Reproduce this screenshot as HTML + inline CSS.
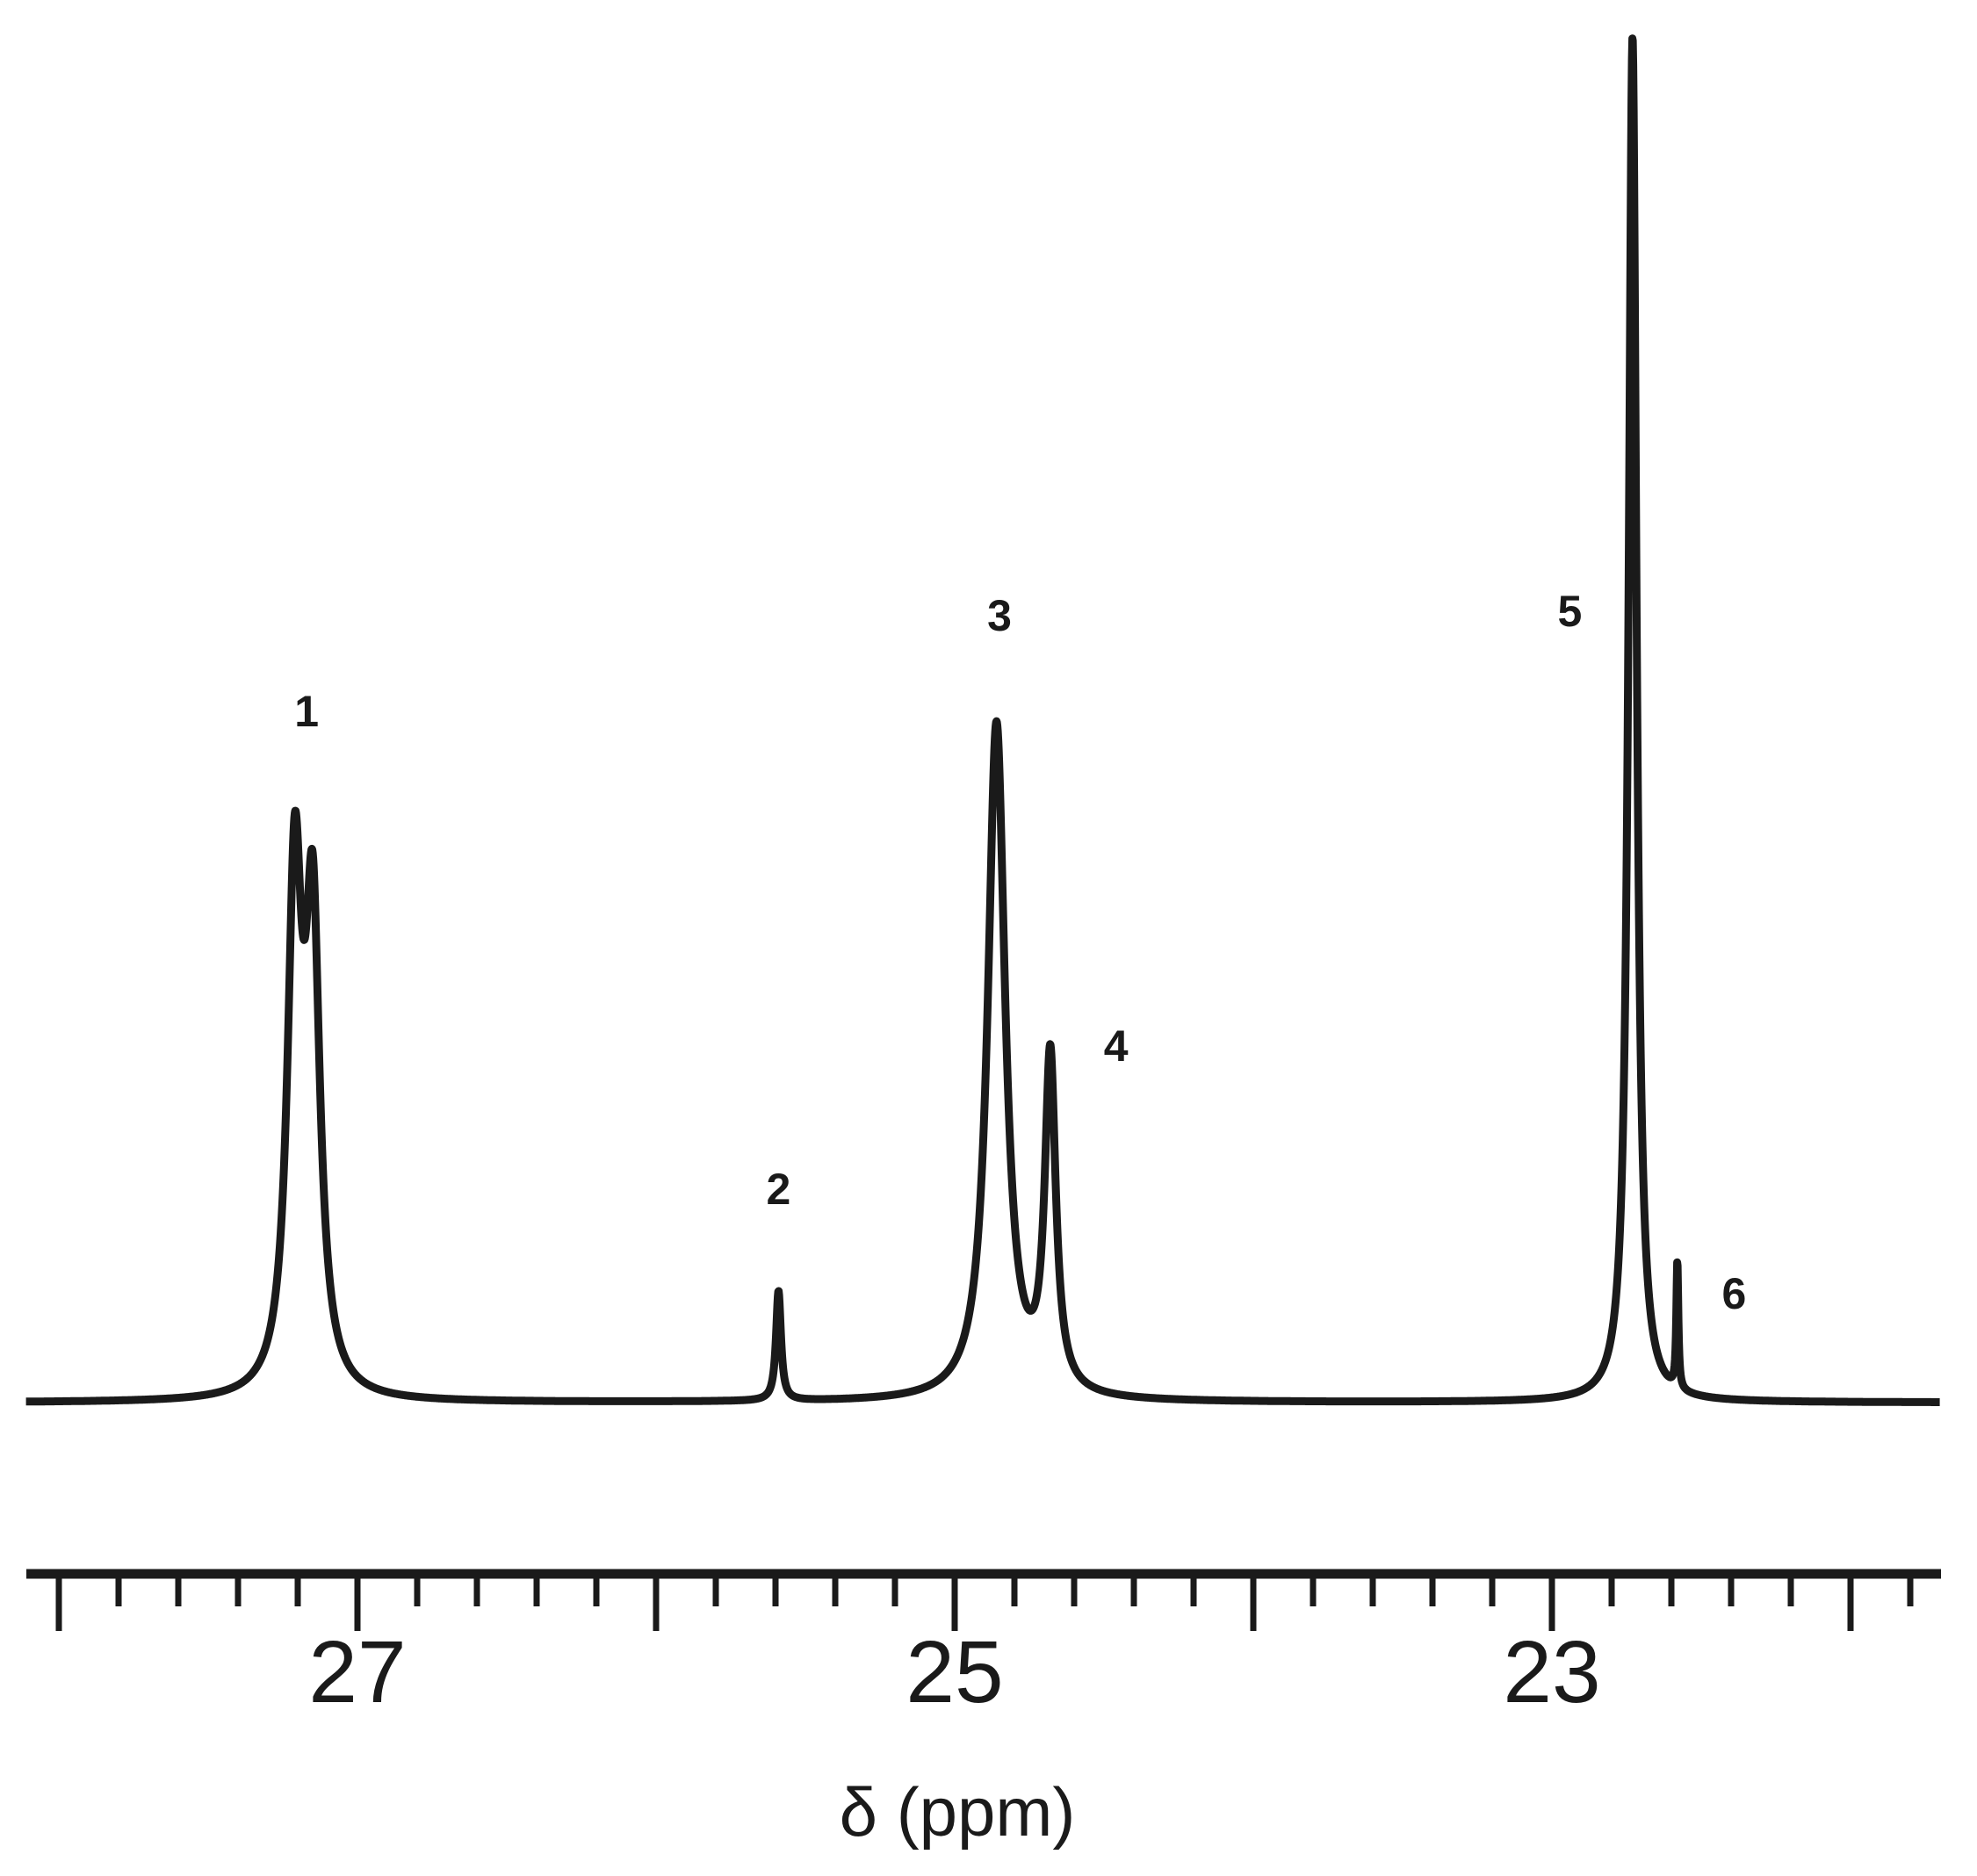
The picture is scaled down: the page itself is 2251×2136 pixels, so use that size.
<!DOCTYPE html>
<html><head><meta charset="utf-8"><style>
html,body{margin:0;padding:0;background:#fff;}
svg{display:block;}
</style></head><body>
<svg id="chart" width="2251" height="2136" viewBox="0 0 2251 2136" xmlns="http://www.w3.org/2000/svg">
<rect width="2251" height="2136" fill="#fff"/>
<g id="spectrum"></g>
<g id="axis"></g>
<g id="labels"></g>
<text x="1090" y="2090" font-family="'Liberation Sans', sans-serif" font-size="78" text-anchor="middle" fill="#1a1a1a">δ (ppm)</text>
</svg>
<script>
const peakCenters = [27.21, 27.15, 25.59, 24.86, 24.68, 22.73, 22.58];
const peakHeights = [573, 518, 125, 770, 380, 1555, 145];
const peakWidths = [0.029, 0.029, 0.010, 0.035, 0.022, 0.016, 0.004];
const labelNames = ["1","2","3","4","5","6"];
const labelPpm = [27.17, 25.59, 24.85, 24.46, 22.94, 22.39];
const labelHeights = [788, 244, 897, 407, 902, 125];
const tickLabels = [27, 25, 23];

const NS = "http://www.w3.org/2000/svg";
const x = ppm => 407 + (27 - ppm) * 340;
const y = v => 1597 - v;
const ppmLeft = 28.11, ppmRight = 21.70;

function signal(p){
  let s = 0;
  for (let i = 0; i < peakCenters.length; i++){
    const d = (p - peakCenters[i]) / peakWidths[i];
    s += peakHeights[i] / (1 + d*d);
  }
  return s;
}
let d = "";
for (let px = x(ppmLeft); px <= x(ppmRight); px += 0.5){
  const p = 27 - (px - 407) / 340;
  d += (d ? "L" : "M") + px.toFixed(1) + "," + y(signal(p)).toFixed(1);
}
const path = document.createElementNS(NS, "path");
path.setAttribute("d", d);
path.setAttribute("fill", "none");
path.setAttribute("stroke", "#1a1a1a");
path.setAttribute("stroke-width", "9");
path.setAttribute("stroke-linejoin", "round");


document.getElementById("spectrum").appendChild(path);

const axis = document.getElementById("axis");
const axLine = document.createElementNS(NS, "line");
axLine.setAttribute("x1", 30); axLine.setAttribute("x2", 2210);
axLine.setAttribute("y1", 1792); axLine.setAttribute("y2", 1792);
axLine.setAttribute("stroke", "#1a1a1a"); axLine.setAttribute("stroke-width", "11");


axis.appendChild(axLine);
for (let k = 0; k <= 31; k++){
  const p = 28 - k * 0.2;
  const major = k % 5 === 0;
  const t = document.createElementNS(NS, "line");
  t.setAttribute("x1", x(p)); t.setAttribute("x2", x(p));
  t.setAttribute("y1", 1792); t.setAttribute("y2", major ? 1857 : 1829);
  t.setAttribute("stroke", "#1a1a1a"); t.setAttribute("stroke-width", "7");
  
  
  axis.appendChild(t);
}
tickLabels.forEach(v => {
  const t = document.createElementNS(NS, "text");
  t.setAttribute("x", x(v)); t.setAttribute("y", 1938);
  t.setAttribute("text-anchor", "middle");
  t.setAttribute("font-family", "'Liberation Sans Narrow','Liberation Sans',sans-serif");
  t.setAttribute("font-size", "100");
  t.setAttribute("fill", "#1a1a1a");
  t.textContent = v;
  
  
  axis.appendChild(t);
});
const lg = document.getElementById("labels");
labelNames.forEach((n, i) => {
  const t = document.createElementNS(NS, "text");
  t.setAttribute("x", x(labelPpm[i])); t.setAttribute("y", y(labelHeights[i]) + 18);
  t.setAttribute("text-anchor", "middle");
  t.setAttribute("font-family", "'Liberation Sans',sans-serif");
  t.setAttribute("font-weight", "bold");
  t.setAttribute("font-size", "50");
  t.setAttribute("fill", "#1a1a1a");
  t.textContent = n;
  
  
  lg.appendChild(t);
});
</script>
</body></html>
